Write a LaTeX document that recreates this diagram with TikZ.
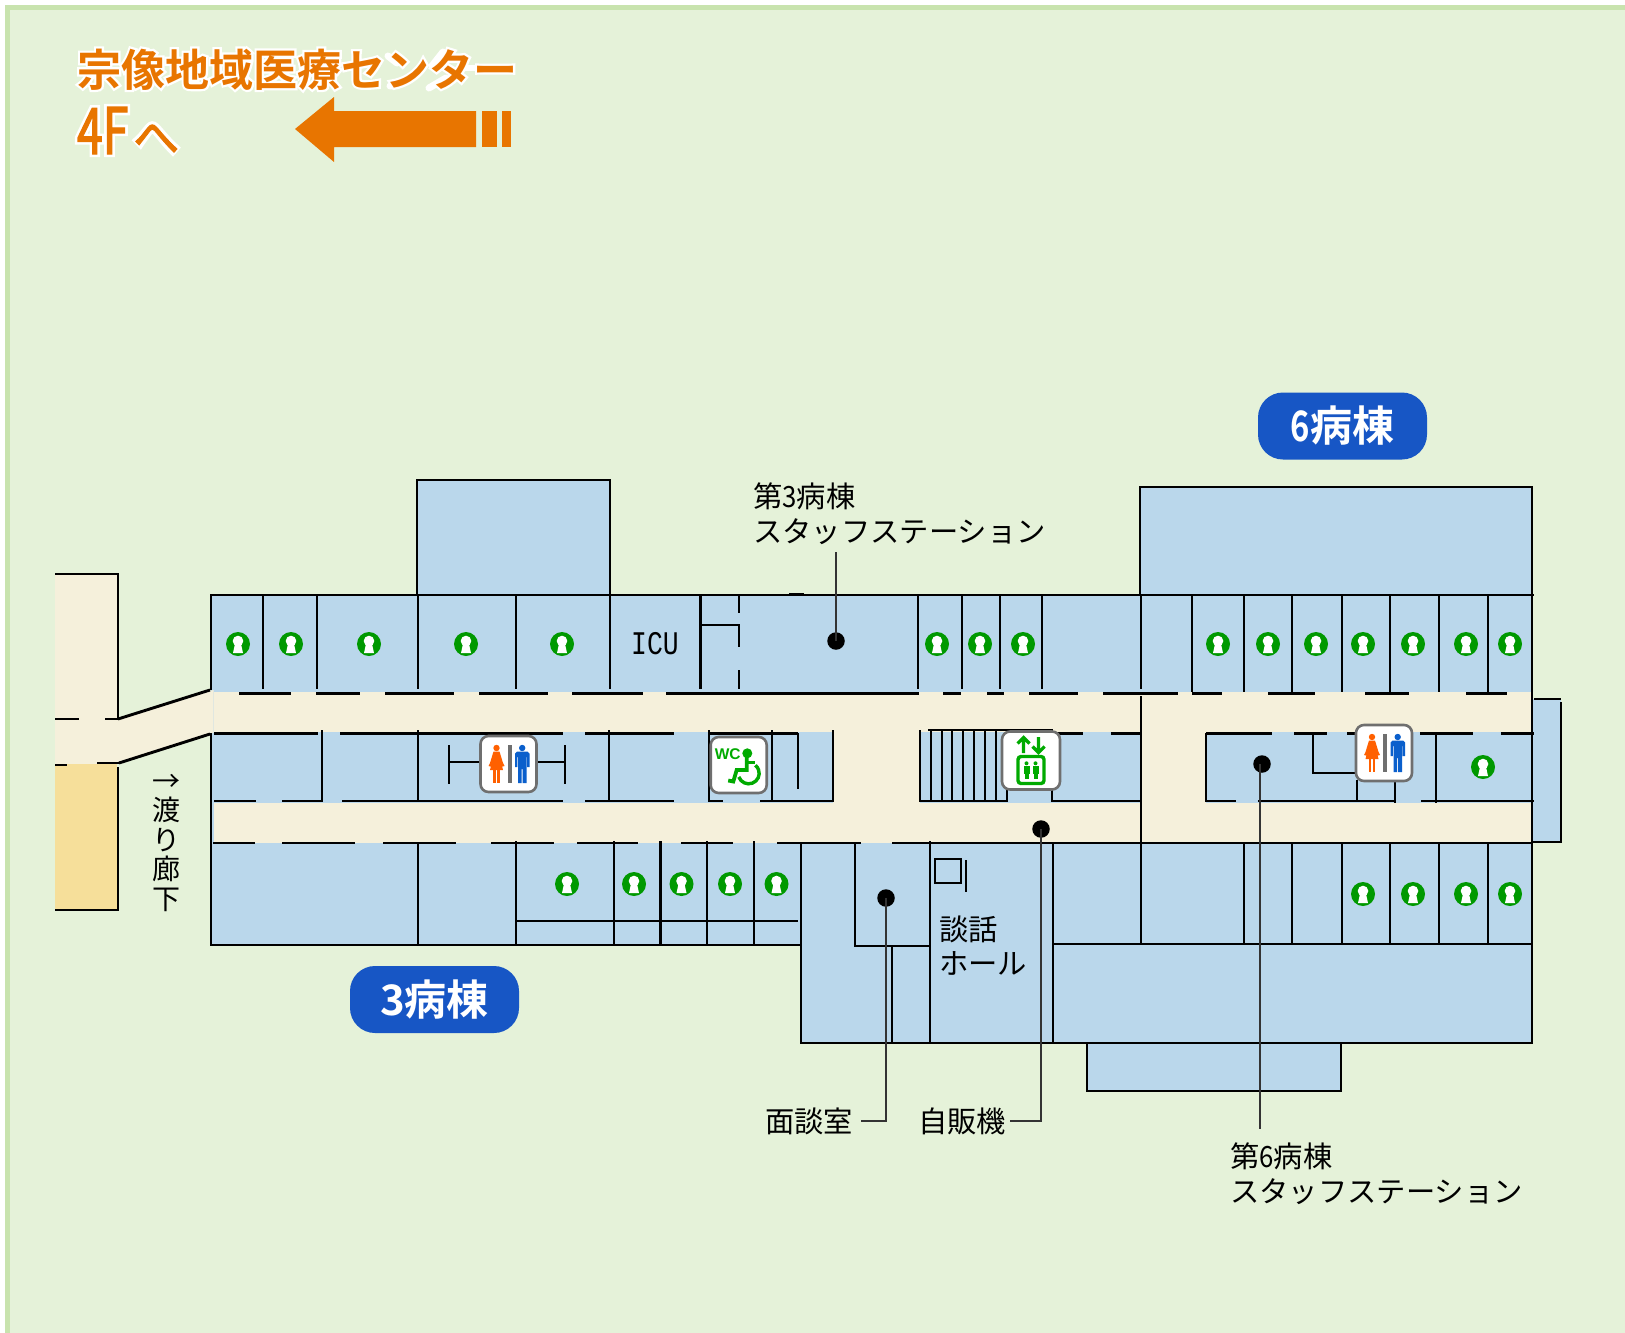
\documentclass[tikz,border=0pt]{standalone}
\usepackage{fontspec}
\setmainfont{Noto Sans CJK JP}
\newfontface\boldf{Noto Sans CJK JP Bold}
\newfontface\halof[FakeBold=10]{Noto Sans CJK JP Bold}
\newfontface\medn[FakeStretch=0.72,FakeBold=2]{Noto Sans CJK JP}
\newfontface\halon[FakeStretch=0.72,FakeBold=10]{Noto Sans CJK JP}
\newfontface\medf[FakeBold=2]{Noto Sans CJK JP}
\newfontface\boldm[FakeStretch=0.78]{Noto Sans CJK JP Bold}
\newfontface\regn[FakeStretch=0.88]{Noto Sans CJK JP}
\newfontface\icuf[FakeStretch=0.8]{Liberation Mono}
\newfontface\wcf{Liberation Sans Bold}
\definecolor{bggreen}{HTML}{E5F2D9}
\definecolor{bordergreen}{HTML}{C8E3AE}
\definecolor{roomblue}{HTML}{BAD7EB}
\definecolor{corridor}{HTML}{F5F0DB}
\definecolor{yellowroom}{HTML}{F6DF9A}
\definecolor{signorange}{HTML}{E87500}
\definecolor{pillblue}{HTML}{1756C5}
\definecolor{keygreen}{HTML}{009900}
\definecolor{icongreen}{HTML}{00AA00}
\definecolor{womanorange}{HTML}{FF6000}
\definecolor{manblue}{HTML}{0A5FCC}
\definecolor{icongray}{HTML}{6F6F6F}
\tikzset{
  wall/.style={line width=2.9pt,black,line cap=butt,line join=miter},
  leader/.style={line width=1.3pt,black!80},
  dot/.style={circle,fill=black,inner sep=0pt,minimum size=17.5pt},
  label/.style={inner sep=0pt,anchor=base west,font=\fontsize{29.3}{34}\selectfont},
  pill/.style={fill=pillblue,rounded corners=25pt,minimum width=169pt,minimum height=67pt,inner sep=0pt,text=white,font=\fontsize{42}{46}\selectfont},
  iconbox/.style={fill=white,draw=icongray,line width=2.6pt,rounded corners=8pt},
  keyhole/.pic={
    \fill[keygreen] (0,0) circle[radius=12pt];
    \fill[white] (0,-3) circle[radius=5.3pt];
    \fill[white] (-2.8,-1)--(2.8,-1)--(5,9)--(-5,9)--cycle;
  },
  restroom/.pic={
    \draw[iconbox] (-28,-28) rectangle (28,28);
    \fill[womanorange] (-12,-16) circle[radius=3.2pt];
    \fill[womanorange] (-15,-12.5)--(-9,-12.5)--(-5.5,-1)--(-4,2)--(-6,2.5)--(-7.5,-2)--(-5.5,6)--(-18.5,6)--(-16.5,-2)--(-18,2.5)--(-20,2)--(-18.5,-1)--cycle;
    \fill[womanorange] (-15.2,6) rectangle (-12.7,19);
    \fill[womanorange] (-11.3,6) rectangle (-8.8,19);
    \fill[icongray] (-0.7,-19) rectangle (3.4,19);
    \fill[manblue] (13.7,-16) circle[radius=3.2pt];
    \fill[manblue] (8.5,-12.5)--(19,-12.5)--(21,-10.5)--(21,3)--(18.6,3)--(18.6,-7)--(18,-7)--(18,19)--(14.2,19)--(14.2,5)--(13.2,5)--(13.2,19)--(9.5,19)--(9.5,-7)--(8.9,-7)--(8.9,3)--(6.5,3)--(6.5,-10.5)--cycle;
  },
  wheelchair/.pic={
    \draw[iconbox] (-28,-28) rectangle (28,28);
    \node[inner sep=0pt,text=icongreen,font=\wcf\fontsize{15.5}{16}\selectfont] (wctext) at (-11,-10.5) {WC};
    \fill[icongreen] (8.6,-11.7) circle[radius=5pt];
    \draw[icongreen,line width=3.8pt] (8,-8)--(8,5)--(-2,5)--(-5.4,16.5)--(-10.5,15.5);
    \draw[icongreen,line width=3pt] (8,-2.3)--(16,-2.3);
    \draw[icongreen,line width=3.4pt] (0.1,11.9) arc[start angle=200,end angle=410,radius=10.5pt];
  },
  elevator/.pic={
    \draw[iconbox] (-29,-29) rectangle (29,29);
    \draw[icongreen,line width=3.2pt] (-7.5,-7.5)--(-7.5,-23) (-13.5,-17)--(-7.5,-23)--(-1.5,-17);
    \draw[icongreen,line width=3.2pt] (7.5,-23.5)--(7.5,-8) (1.5,-14)--(7.5,-8)--(13.5,-14);
    \draw[icongreen,line width=3.4pt,rounded corners=3pt] (-13,-4) rectangle (13,23);
    \foreach \px in {-4.5,4.5}{
      \fill[icongreen] (\px,2.8) circle[radius=2pt];
      \fill[icongreen] (\px-3,5.5) rectangle (\px+3,13);
      \fill[icongreen] (\px-2,13) rectangle (\px+2,18.5);
    }
  }
}
\begin{document}
\begin{tikzpicture}[x=1pt,y=-1pt]
\useasboundingbox (0,0) rectangle (1625,1333);
\fill[white] (0,0) rectangle (1625,1333);
\fill[bordergreen] (5,5) rectangle (1625,1333);
\fill[bggreen] (10,10) rectangle (1625,1333);

% rooms
\fill[roomblue] (211,595) rectangle (1532,944);
\fill[roomblue] (417,480) rectangle (610,595);
\fill[roomblue] (1140,487) rectangle (1532,595);
\fill[roomblue] (1532,699) rectangle (1561,842);
\fill[roomblue] (801,843) rectangle (1532,1043);
\fill[roomblue] (1087,1043) rectangle (1341,1091);
% corridors
\fill[corridor] (213.5,692) rectangle (1532,731.5);
\fill[corridor] (213.5,802.5) rectangle (1532,843);
\fill[corridor] (833,692) rectangle (920,843);
\fill[corridor] (1141,692) rectangle (1206,843);
\fill[corridor] (55,574) rectangle (117,764);
\fill[corridor] (117,719)--(213.5,690)--(213.5,733)--(117,763)--cycle;
\fill[yellowroom] (55,764) rectangle (117,910);

% left building
\draw[wall] (55,574)--(118,574)--(118,720);
\draw[wall] (55,719)--(79,719) (105,719)--(118,719);
\draw[wall] (55,765)--(67,765) (97,763)--(119,763);
\draw[wall] (118,767)--(118,911) (55,910)--(119,910);
\draw[wall] (118,719)--(210,690) (119,763)--(210,734);

% outer walls
\draw[wall] (211,595)--(1534,595);
\draw[wall] (211,594)--(211,690) (211,733)--(211,945)--(802,945);
\draw[wall] (417,595)--(417,480)--(610,480)--(610,595);
\draw[wall] (1140,595)--(1140,487)--(1532,487)--(1532,1043)--(801,1043)--(801,843);
\draw[wall] (1087,1043)--(1087,1091)--(1341,1091)--(1341,1043);
\draw[wall] (1534,699)--(1561,699) (1561,702)--(1561,842)--(1532,842);
\draw[wall] (789,594.5)--(804,594.5);

% top row dividers
\foreach \dx in {263,317,418,516,610,700.5,918,962,1000,1042}{\draw[wall] (\dx,595)--(\dx,689);}
\draw[wall] (1141,595)--(1141,689) (1141,696)--(1141,945);
\foreach \dx in {1192,1244,1292,1342,1390,1439,1488}{\draw[wall] (\dx,595)--(\dx,692);}
\draw[wall] (739,596)--(739,613) (739,625)--(739,647) (739,670)--(739,689);
\draw[wall] (702,625)--(740,625);

% y=693
\foreach \ax/\bx in {239/291,316/360,385/454,479/548,572/643,666/919,943/961,987/1004,1029/1078,1103/1178,1192/1222,1268/1315,1365/1409,1466/1507}{\draw[wall] (\ax,693.5)--(\bx,693.5);}
% y=733
\foreach \ax/\bx in {214/318,340/563,585/674,709/798,1057/1083,1111/1141,1206/1272,1294/1327,1347/1356,1420/1473,1501/1534}{\draw[wall] (\ax,733.5)--(\bx,733.5);}
\draw[wall] (928,730)--(1053,730);
% y=801
\foreach \ax/\bx in {214/256,282/322,342/563,585/674,709/723,760/833,920/1008,1052/1141,1206/1236,1258/1395,1421/1534}{\draw[wall] (\ax,801)--(\bx,801);}
% y=843
\foreach \ax/\bx in {213/255,282/355,383/456,491/554,577/638,681/733,777/861,892/1532}{\draw[wall] (\ax,843)--(\bx,843);}

% mid band
\draw[wall] (322,730)--(322,802) (418,730)--(418,802) (609,730)--(609,802);
\draw[wall] (449,745)--(449,784) (565,745)--(565,784) (449,762)--(565,762);
\draw[wall] (709,730)--(709,802) (772,730)--(772,802) (798,733)--(798,789) (833,730)--(833,802);
\foreach \sx in {920,931,942,952,963,974,985,996,1007}{\draw[wall] (\sx,730)--(\sx,802);}
\draw[wall] (1052,789)--(1052,802);
\draw[wall] (1206,732.5)--(1206,802);
\draw[wall] (1313,733)--(1313,773)--(1356,773);
\draw[wall] (1357,780)--(1357,802) (1395,780)--(1395,803) (1436,733)--(1436,803);

% bottom row
\draw[wall] (418,843)--(418,945);
\foreach \dx in {516,614,660.5,707,754}{\draw[wall] (\dx,841)--(\dx,945);}
\draw[wall] (516,921)--(798,921);
\draw[wall] (855,843)--(855,946)--(930,946);
\draw[wall] (892,946)--(892,1043);
\draw[wall] (930,841)--(930,1043) (1053,843)--(1053,1043);
\draw[wall] (1053,944)--(1532,944);
\foreach \dx in {1244,1292,1342,1390,1439,1488}{\draw[wall] (\dx,844)--(\dx,945);}
\draw[line width=2.3pt] (935,859) rectangle (961,883);
\draw[line width=2pt] (966,860)--(966,892);

% keyholes
\foreach \kx in {238,291,369,466,562,937,980,1023,1218,1268,1316,1363,1413,1466,1510}{\pic at (\kx,644) {keyhole};}
\foreach \kx in {567,634,681.5,730,776.5}{\pic at (\kx,884) {keyhole};}
\foreach \kx in {1363,1413,1466,1510}{\pic at (\kx,894) {keyhole};}
\pic at (1483,767) {keyhole};

% icons
\pic at (508.5,764) {restroom};
\pic at (1384,753) {restroom};
\pic at (738.7,765) {wheelchair};
\pic at (1031,760.5) {elevator};

% dots and leaders
\node[dot] (dotA) at (836,641) {};
\node[dot] (dotB) at (886,898) {};
\node[dot] (dotC) at (1041,829) {};
\node[dot] (dotD) at (1262,764) {};
\coordinate (leadA) at (836,552);
\coordinate (leadB) at (861,1121);
\coordinate (leadC) at (1010,1121);
\coordinate (leadD) at (1260,1129);
\draw[leader] (dotA.center)--(leadA);
\draw[leader] (dotB.center)--(886,1121)--(leadB);
\draw[leader] (dotC.center)--(1041,1121)--(leadC);
\draw[leader] (dotD.center)++(-2,0)--(leadD);

% labels
\node[label] (st3a) at (753,507) {第{\regn 3}病棟};
\node[label] (st3b) at (753,542) {スタッフステーション};
\node[label] (st6a) at (1230,1167) {第{\regn 6}病棟};
\node[label] (st6b) at (1230,1202) {スタッフステーション};
\node[label] (men) at (765,1132) {面談室};
\node[label] (jihan) at (918,1132) {自販機};
\node[label] (dan) at (939,940) {談話};
\node[label] (hall) at (939,974) {ホール};
\node[inner sep=0pt,font=\icuf\fontsize{33}{36}\selectfont] (icu) at (655,644) {ICU};
\node[inner sep=0pt,align=center,font=\fontsize{28}{29.5}\selectfont] (watari) at (166,843) {→\\渡\\り\\廊\\下};

% ward pills
\node[pill] (ward6) at (1342.5,426) {{\boldm 6}{\boldf 病棟}};
\node[pill] (ward3) at (434.5,999.5) {{\boldf 3病棟}};

% title: stray white marks behind the katakana, as printed
\draw[white,line width=7pt,line cap=round] (388,56)--(397,63);
\draw[white,line width=7pt,line cap=round] (390,86) .. controls (405,84) and (417,76) .. (424,65);
\draw[white,line width=7pt,line cap=round] (443,52)--(432,66);
\draw[white,line width=7pt,line cap=round] (429,88)--(446,78);
\draw[white,line width=6pt,line cap=round] (462,68)--(497,68);
\node[inner sep=0pt,anchor=base west,font=\fontsize{44}{48}\selectfont,text=signorange] (title) at (77,86) {\rlap{\color{white}\halof 宗像地域医療センター}\boldf 宗像地域医療センター};
\node[inner sep=0pt,anchor=base west,font=\fontsize{64}{68}\selectfont,text=signorange] (floor) at (77,154) {\rlap{\color{white}\halon 4F{\fontsize{46}{50}\selectfont\hspace{5pt}\halof へ}}\medn 4F{\fontsize{46}{50}\selectfont\hspace{5pt}\medf へ}};

% arrow
\fill[signorange] (295,129)--(334,97)--(334,111)--(476,111)--(476,147)--(334,147)--(334,162)--cycle;
\fill[signorange] (482,111) rectangle (497,147);
\fill[signorange] (502,111) rectangle (511,147);
\end{tikzpicture}
\end{document}
